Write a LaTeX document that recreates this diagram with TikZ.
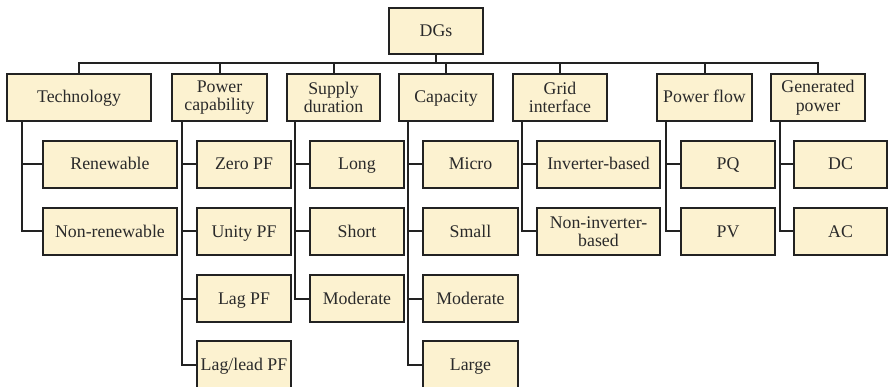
\documentclass[tikz,border=0pt]{standalone}
\usepackage{fontspec}
\setmainfont{Liberation Serif}
\definecolor{boxfill}{HTML}{FCF2D0}
\definecolor{boxline}{HTML}{222222}
\definecolor{txt}{HTML}{2A2A2A}
\begin{document}
\begin{tikzpicture}[x=1pt,y=-1pt,
  box/.style={draw=boxline,fill=boxfill,line width=2pt,inner sep=0pt,
    minimum height=47pt,align=center,text=txt,
    font=\fontsize{17.8}{18.5}\selectfont},
  one/.style={box,text height=13.5pt,text depth=2.5pt},
  conn/.style={draw=boxline,line width=2pt}]
\useasboundingbox (0,0) rectangle (888,387);
% root
\node[one,minimum width=94pt,minimum height=46pt] (dgs) at (436,31) {DGs};
% categories
\node[one,minimum width=144pt] (tech) at (79,97.5) {Technology};
\node[box,minimum width=95pt] (pc) at (219.5,97.5) {Power\\capability};
\node[box,minimum width=93pt] (sd) at (333.5,97.5) {Supply\\duration};
\node[one,minimum width=94pt] (cap) at (446,97.5) {Capacity};
\node[box,minimum width=94pt] (grid) at (560,97.5) {Grid\\interface};
\node[one,minimum width=95pt] (pf) at (704.5,97.5) {Power flow};
\node[box,minimum width=94pt] (gen) at (818,97.5) {Generated\\power};
% children
\node[one,minimum width=134pt] (ren) at (110,164.5) {Renewable};
\node[one,minimum width=134pt] (nren) at (110,231.5) {Non-renewable};
\node[one,minimum width=94pt] (zpf) at (244,164.5) {Zero PF};
\node[one,minimum width=94pt] (upf) at (244,231.5) {Unity PF};
\node[one,minimum width=94pt] (lpf) at (244,298.5) {Lag PF};
\node[one,minimum width=94pt] (llpf) at (244,364.5) {Lag/lead PF};
\node[one,minimum width=94pt] (long) at (357,164.5) {Long};
\node[one,minimum width=94pt] (short) at (357,231.5) {Short};
\node[one,minimum width=94pt] (smod) at (357,298.5) {Moderate};
\node[one,minimum width=95pt] (micro) at (470.5,164.5) {Micro};
\node[one,minimum width=95pt] (small) at (470.5,231.5) {Small};
\node[one,minimum width=95pt] (cmod) at (470.5,298.5) {Moderate};
\node[one,minimum width=95pt] (large) at (470.5,364.5) {Large};
\node[one,minimum width=123pt] (inv) at (598.5,164.5) {Inverter-based};
\node[box,minimum width=123pt] (ninv) at (598.5,231.5) {Non-inverter-\\based};
\node[one,minimum width=94pt] (pq) at (728,164.5) {PQ};
\node[one,minimum width=94pt] (pv) at (728,231.5) {PV};
\node[one,minimum width=93pt] (dc) at (840.5,164.5) {DC};
\node[one,minimum width=93pt] (ac) at (840.5,231.5) {AC};
% bus
\coordinate (bus) at (436,63);
\draw[conn] (dgs.south) -- (bus);
\draw[conn] (tech.north) |- (bus);
\draw[conn] (gen.north) |- (bus);
\foreach \c in {pc,sd,cap,grid,pf} \draw[conn] (\c.north) |- (bus);
% child connectors
\foreach \c in {ren,nren} \draw[conn] (\c.west) -| ([xshift=16pt]tech.south west);
\foreach \c in {zpf,upf,lpf,llpf} \draw[conn] (\c.west) -| ([xshift=11pt]pc.south west);
\foreach \c in {long,short,smod} \draw[conn] (\c.west) -| ([xshift=9pt]sd.south west);
\foreach \c in {micro,small,cmod,large} \draw[conn] (\c.west) -| ([xshift=10pt]cap.south west);
\foreach \c in {inv,ninv} \draw[conn] (\c.west) -| ([xshift=10pt]grid.south west);
\foreach \c in {pq,pv} \draw[conn] (\c.west) -| ([xshift=10pt]pf.south west);
\foreach \c in {dc,ac} \draw[conn] (\c.west) -| ([xshift=10pt]gen.south west);
\end{tikzpicture}
\end{document}
